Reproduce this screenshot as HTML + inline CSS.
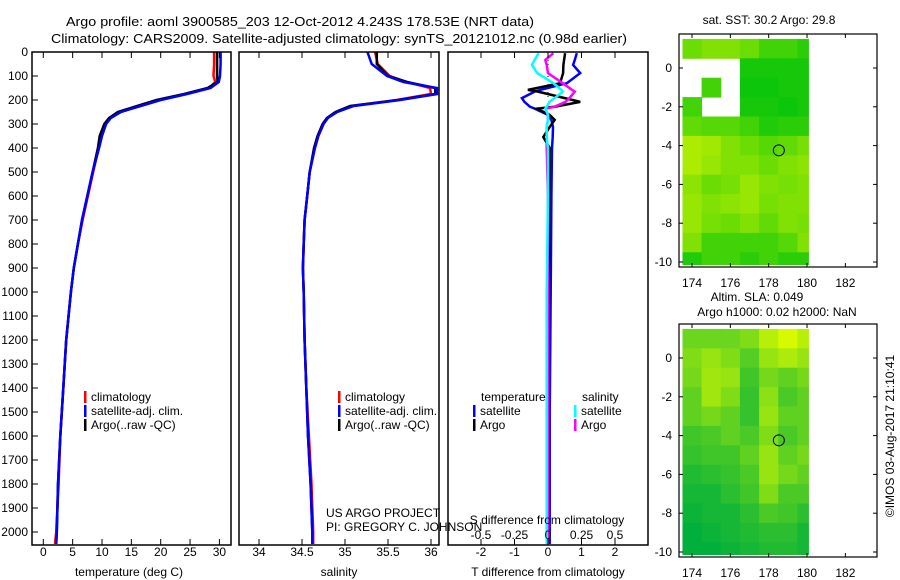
<!DOCTYPE html>
<html><head><meta charset="utf-8"><style>
html,body{margin:0;padding:0;background:#fff;}
svg{display:block;font-family:"Liberation Sans",sans-serif;}
text{font-size:12px;fill:#000;}
</style></head><body>
<svg id="fig" width="900" height="580" viewBox="0 0 900 580" xmlns="http://www.w3.org/2000/svg">
<text x="66" y="26" textLength="468" lengthAdjust="spacingAndGlyphs" style="font-size:13px">Argo profile: aoml 3900585_203 12-Oct-2012 4.243S 178.53E (NRT data)</text>
<text x="51" y="43" textLength="576" lengthAdjust="spacingAndGlyphs" style="font-size:13px">Climatology: CARS2009. Satellite-adjusted climatology: synTS_20121012.nc (0.98d earlier)</text>
<g id="g"></g>
</svg>
<script>
// ---- profile data ----
const depths   = [0,50,100,125,150,175,200,225,250,275,300,350,400,500,600,700,800,900,1000,1200,1400,1600,1800,2000,2050];
const tempSat  = [30.2,30.2,30.1,29.9,28.5,24.5,20.0,16.6,13.2,11.5,10.7,10.0,9.5,8.4,7.5,6.6,5.9,5.2,4.7,3.9,3.4,2.9,2.5,2.3,2.2];
const tempClim = [29.1,29.1,29.0,29.3,28.2,24.2,19.8,16.4,13.0,11.4,10.6,9.9,9.4,8.5,7.6,6.7,5.9,5.2,4.7,3.9,3.4,2.9,2.6,2.2,2.0];
const tempArgo = [29.6,29.6,29.6,29.7,28.0,24.0,19.3,16.0,12.7,11.2,10.4,9.6,9.3,8.4,7.5,6.6,5.9,5.2,4.7,3.9,3.4,2.9,2.5,2.3,2.2];
const salSat   = [35.26,35.31,35.49,35.68,36.07,36.07,35.64,35.10,34.91,34.80,34.75,34.69,34.65,34.59,34.56,34.53,34.52,34.51,34.52,34.53,34.55,34.57,34.60,34.62,34.62];
const salClim  = [35.35,35.38,35.52,35.72,35.99,36.00,35.60,35.08,34.90,34.80,34.75,34.69,34.65,34.59,34.56,34.53,34.52,34.51,34.52,34.53,34.55,34.58,34.61,34.63,34.63];
const salArgo  = [35.37,35.37,35.50,35.72,36.05,36.05,35.62,35.06,34.89,34.79,34.74,34.68,34.64,34.59,34.56,34.53,34.52,34.51,34.52,34.53,34.55,34.57,34.60,34.62,34.62];
// ---- difference data ----
const diffDepths = [5,33,54,88,130,158,165,192,208,228,236,262,283,312,354,400,600,1000,1500,2050];
const dTsat  = [0.86,0.80,0.75,0.96,0.56,-0.24,-0.40,-0.78,-0.70,-0.54,-0.40,0.0,0.10,0.15,0.14,0.12,0.10,0.08,0.05,0.05];
const dTargo = [0.51,0.48,0.46,0.45,0.36,-0.60,-0.30,0.50,0.96,0.20,-0.33,0.05,0.20,0.05,-0.14,0.05,0.04,0.03,0.02,0.02];
const dSargo = [0.04,-0.02,-0.01,0.00,0.11,0.18,0.20,0.16,0.13,0.05,-0.02,0.00,0.00,-0.01,-0.01,-0.01,0.00,0.00,0.00,0.00];
const dSsat  = [-0.07,-0.10,-0.12,-0.08,0.04,0.10,0.11,0.05,0.01,-0.01,-0.02,0.00,0.00,-0.01,-0.01,0.00,0.00,-0.01,-0.01,-0.01];
// ---- ticks ----
const depthTicks = [0,100,200,300,400,500,600,700,800,900,1000,1100,1200,1300,1400,1500,1600,1700,1800,1900,2000];
const tempTicks = [0,5,10,15,20,25,30];
const salTicks = [34,34.5,35,35.5,36];
const salTickLabels = ["34","34.5","35","35.5","36"];
const dTTicks = [-2,-1,0,1,2];
const dSTicks = [-0.5,-0.25,0,0.25,0.5];
const dSTickLabels = ["-0.5","-0.25","0","0.25","0.5"];
const lonTicks = [174,176,178,180,182];
const latTicks = [0,-2,-4,-6,-8,-10];
// ---- map grids (1-degree cells), lon centres and lat centres ----
const gridLons = [174,175,176,177,178,179,180];
const gridLats = [1,0,-1,-2,-3,-4,-5,-6,-7,-8,-9,-10];
const sstGrid = [
 [0.5,0.6,0.6,0.5,0.3,0.3,0.2],
 [null,null,null,0.1,0.1,0.1,0.1],
 [null,0.3,null,0.05,0.05,0.1,0.1],
 [0.3,null,null,0.1,0.1,0.05,0.1],
 [0.45,0.4,0.4,0.3,0.15,0.2,0.2],
 [0.8,0.75,0.6,0.5,0.4,0.45,0.55],
 [0.8,0.7,0.6,0.6,0.5,0.6,0.65],
 [0.65,0.5,0.55,0.7,0.6,0.55,0.6],
 [0.7,0.6,0.65,0.7,0.55,0.6,0.6],
 [0.7,0.55,0.5,0.6,0.45,0.6,0.55],
 [0.6,0.3,0.3,0.3,0.3,0.4,0.6],
 [0.15,0.3,0.3,0.2,0.3,0.2,0.2]];
const slaGrid = [
 [0.5,0.5,0.5,0.6,0.85,1.0,0.85],
 [0.6,0.7,0.6,0.4,0.7,0.8,0.7],
 [0.55,0.75,0.7,0.3,0.55,0.45,0.55],
 [0.45,0.75,0.6,0.25,0.65,0.35,0.45],
 [0.45,0.55,0.45,0.25,0.7,0.45,0.45],
 [0.3,0.35,0.45,0.35,0.6,0.35,0.45],
 [0.25,0.3,0.3,0.45,0.7,0.45,0.55],
 [0.15,0.2,0.25,0.35,0.7,0.55,0.45],
 [0.1,0.1,0.2,0.3,0.6,0.35,0.35],
 [0.05,0.1,0.1,0.2,0.35,0.3,0.2],
 [0.0,0.05,0.1,0.15,0.2,0.2,0.1],
 [0.0,0.0,0.05,0.1,0.15,0.15,0.1]];
const floatLon = 178.53, floatLat = -4.243;

const NS="http://www.w3.org/2000/svg";
const G=document.getElementById('g');
function el(tag,attrs,parent){const e=document.createElementNS(NS,tag);for(const k in attrs)e.setAttribute(k,attrs[k]);(parent||G).appendChild(e);return e;}
function txt(s,x,y,anchor,parent){const t=el('text',{x:x,y:y,'text-anchor':anchor||'start'},parent);t.textContent=s;return t;}

const yTop=52, yBot=545;
const yD=d=>yTop+d*0.24;
function frame(x0,x1,name){
  const r=el('rect',{x:x0,y:yTop,width:x1-x0,height:yBot-yTop,fill:'none',stroke:'#000','stroke-width':1.5});
  
  
}
function xTicks(vals,labels,xf,grp){
  vals.forEach((v,i)=>{const x=xf(v);
    el('line',{x1:x,x2:x,y1:yBot,y2:yBot-6,stroke:'#000'},grp);
    el('line',{x1:x,x2:x,y1:yTop,y2:yTop+6,stroke:'#000'},grp);
    const t=txt(labels[i],x,556,'middle',grp);
    
    
  });
}
function clipFor(id,x0,x1){const c=el('clipPath',{id:id});el('rect',{x:x0,y:yTop,width:x1-x0,height:yBot-yTop},c);}

// Panel 1: temperature
const xT=v=>43.3+v*5.87;
clipFor('c1',32,231);
const p1=el('g',{'clip-path':'url(#c1)'});


[[tempClim,'#f00','temp-climatology-line'],[tempArgo,'#000','temp-argo-line'],[tempSat,'#00f','temp-satellite-line']].forEach(a=>{
  const p=a[0].map((v,i)=>xT(v).toFixed(1)+','+yD(depths[i]).toFixed(1)).join(' ');
  const e=el('polyline',{points:p,fill:'none',stroke:a[1],'stroke-width':2.5},p1);
  
  
});
frame(32,231,'temperature-axes-frame');
const ax1=el('g',{});


xTicks(tempTicks,tempTicks.map(String),xT,ax1);
depthTicks.forEach(d=>{const y=yD(d);
  el('line',{x1:32,x2:38,y1:y,y2:y,stroke:'#000'});
  const t=txt(String(d),28,y+4,'end');
  
  
});
let t;
t=txt('temperature (deg C)',129,576,'middle');



// Panel 2: salinity
const xS=v=>345+(v-35)*86;
clipFor('c2',239,439);
const p2=el('g',{'clip-path':'url(#c2)'});


[[salClim,'#f00','sal-climatology-line'],[salArgo,'#000','sal-argo-line'],[salSat,'#00f','sal-satellite-line']].forEach(a=>{
  const p=a[0].map((v,i)=>xS(v).toFixed(1)+','+yD(depths[i]).toFixed(1)).join(' ');
  const e=el('polyline',{points:p,fill:'none',stroke:a[1],'stroke-width':2.5},p2);
  
  
});
frame(239,439,'salinity-axes-frame');
const ax2=el('g',{});


xTicks(salTicks,salTickLabels,xS,ax2);
t=txt('salinity',339,576,'middle');



// Panel 3: differences
const xDT=v=>548+v*33.5;
const xDS=v=>548+v*134;
clipFor('c3',448,648);
const p3=el('g',{'clip-path':'url(#c3)'});


el('line',{x1:548,x2:548,y1:yTop,y2:yD(200),stroke:'#000','stroke-dasharray':'1,3'},p3);
[[dTsat,xDT,'#00f','dT-satellite-line'],[dTargo,xDT,'#000','dT-argo-line'],[dSargo,xDS,'#f0f','dS-argo-line'],[dSsat,xDS,'#0ff','dS-satellite-line']].forEach(a=>{
  const p=a[0].map((v,i)=>a[1](v).toFixed(1)+','+yD(diffDepths[i]).toFixed(1)).join(' ');
  const e=el('polyline',{points:p,fill:'none',stroke:a[2],'stroke-width':2.5},p3);
  
  
});
frame(448,648,'difference-axes-frame');
const ax3=el('g',{});


xTicks(dTTicks,dTTicks.map(String),xDT,ax3);
dSTicks.forEach((v,i)=>{const t=txt(dSTickLabels[i],xDS(v),539,'middle');
  
  });
t=txt('S difference from climatology',547,524,'middle');


t=txt('T difference from climatology',548,576,'middle');



// Legends
function legItem(x,y,color,label,name){
  const g=el('g',{});
  
  
  el('rect',{x:x,y:y-10,width:2.5,height:12,fill:color},g);
  txt(label,x+7,y,'start',g);
}
[[84,'temp'],[338,'sal']].forEach(a=>{
  legItem(a[0],401,'#f00','climatology','legend-'+a[1]+'-climatology');
  legItem(a[0],415,'#00f','satellite-adj. clim.','legend-'+a[1]+'-satellite');
  legItem(a[0],429,'#000','Argo(..raw -QC)','legend-'+a[1]+'-argo');
});
t=txt('temperature',481,401);


t=txt('salinity',582,401);


legItem(473,415,'#00f','satellite','legend-dT-satellite');
legItem(473,429,'#000','Argo','legend-dT-argo');
legItem(574,415,'#0ff','satellite','legend-dS-satellite');
legItem(574,429,'#f0f','Argo','legend-dS-argo');
t=txt('US ARGO PROJECT',326,517);


t=txt('PI: GREGORY C. JOHNSON',326,531);



// Maps
const lonX=lon=>692+(lon-174)*19.17;
function colorSST(v){const a=[0,195,10],b=[215,245,0];return 'rgb('+a.map((c,i)=>Math.round(c+(b[i]-c)*v)).join(',')+')';}
function colorSLA(v){const a=[0,175,60],b=[215,250,0];return 'rgb('+a.map((c,i)=>Math.round(c+(b[i]-c)*v)).join(',')+')';}
function drawMap(top,latY,grid,colf,name,clipId){
  const g=el('g',{});
  
  
  const c=el('clipPath',{id:clipId});
  el('rect',{x:lonX(173.5),y:top+2,width:lonX(180.1)-lonX(173.5),height:233-4},c);
  const cells=el('g',{'clip-path':'url(#'+clipId+')'},g);
  grid.forEach((row,r)=>row.forEach((v,ci)=>{
    if(v===null)return;
    const x0=lonX(gridLons[ci]-0.5),x1=lonX(gridLons[ci]+0.5);
    const y0=latY(gridLats[r]+0.5),y1=latY(gridLats[r]-0.5);
    const rc=el('rect',{x:x0,y:y0,width:x1-x0+0.5,height:y1-y0+0.5,fill:colf(v)},cells);
    
    
  }));
  el('rect',{x:679,y:top,width:198,height:233,fill:'none',stroke:'#000','stroke-width':1.2},g);
  lonTicks.forEach(l=>{const x=lonX(l);
    el('line',{x1:x,x2:x,y1:top,y2:top+4,stroke:'#000'},g);
    el('line',{x1:x,x2:x,y1:top+233,y2:top+229,stroke:'#000'},g);
    txt(String(l),x,top+253,'middle',g);});
  latTicks.forEach(l=>{const y=latY(l);
    el('line',{x1:679,x2:683,y1:y,y2:y,stroke:'#000'},g);
    el('line',{x1:877,x2:873,y1:y,y2:y,stroke:'#000'},g);
    txt(String(l),672,y+4,'end',g);});
  const fc=el('circle',{cx:lonX(floatLon),cy:latY(floatLat),r:5.5,fill:'none',stroke:'#000','stroke-width':1},g);
  
  
}
drawMap(34,lat=>68-lat*19.4,sstGrid,colorSST,'sst-map','cm1');
drawMap(324,lat=>358-lat*19.4,slaGrid,colorSLA,'sla-map','cm2');
t=txt('sat. SST: 30.2 Argo: 29.8',769,24,'middle');


t=txt('Altim. SLA: 0.049',757,301,'middle');


t=txt('Argo h1000: 0.02 h2000: NaN',777,316,'middle');


t=txt('©IMOS 03-Aug-2017 21:10:41',0,0,'middle');
t.setAttribute('transform','translate(894,436) rotate(-90)');


</script>
</body></html>
